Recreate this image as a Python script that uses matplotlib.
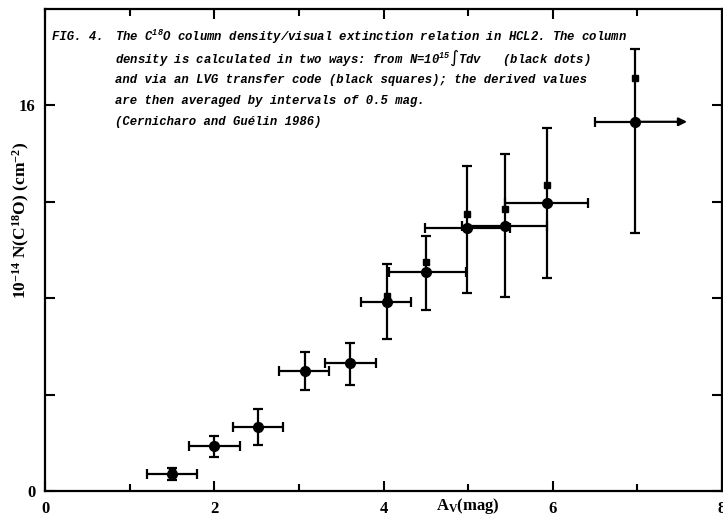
import numpy as np
import matplotlib.pyplot as plt

plt.rcParams['mathtext.default'] = 'regular'

# Av bins and column densities (10^14 cm^-2)
av = [1.5, 2.0, 2.52, 3.07, 3.61, 4.04, 4.5, 4.99, 5.43, 5.93, 6.97]
n_dots = [0.7, 1.88, 2.67, 4.98, 5.3, 7.86, 9.09, 10.9, 10.99, 11.94, 15.32]
n_squares = [0.85, 1.9, 2.7, 5.0, 5.3, 8.1, 9.5, 11.5, 11.7, 12.7, 17.15]
yerr_lo = [0.25, 0.46, 0.76, 0.79, 0.9, 1.56, 1.59, 2.7, 2.93, 3.11, 4.6]
yerr_hi = [0.25, 0.41, 0.73, 0.77, 0.83, 1.54, 1.51, 2.6, 3.0, 3.12, 3.0]
xerr_lo = [0.3, 0.3, 0.3, 0.31, 0.3, 0.3, 0.44, 0.5, 0.5, 0.5, 0.47]
xerr_hi = [0.3, 0.3, 0.29, 0.29, 0.3, 0.29, 0.48, 0.5, 0.5, 0.49, 0.0]
arrow_to = 7.62   # lower limit on the last bin

xticks = [0, 2, 4, 6, 8]
yticks = [0, 4, 8, 12, 16]
ytick_labels = ['0', '', '', '', '16']

caption = [
    "The C$^{18}$O column density/visual extinction relation in HCL2. The column",
    "density is calculated in two ways: from N=10$^{15}$\u222bTdv   (black dots)",
    "and via an LVG transfer code (black squares); the derived values",
    "are then averaged by intervals of 0.5 mag.",
    "(Cernicharo and Gu\u00e9lin 1986)",
]

fig = plt.figure(figsize=(7.23, 5.17), dpi=100)
ax = fig.add_axes([45/723, 26/517, 677/723, 482/517])

ax.errorbar(av, n_dots, yerr=[yerr_lo, yerr_hi], xerr=[xerr_lo, xerr_hi],
            fmt='o', color='black', ms=7, elinewidth=1.6, capsize=3.5,
            capthick=1.6, zorder=3)
ax.plot(av, n_squares, 's', color='black', ms=4.5, zorder=4)
ax.annotate('', xy=(arrow_to, n_dots[-1]), xytext=(av[-1], n_dots[-1]),
            arrowprops=dict(arrowstyle='-|>', color='black', lw=1.6,
                            mutation_scale=12))

ax.set_xlim(0, 8)
ax.set_ylim(0, 20)
ax.set_xticks(xticks)
ax.set_xticks([1, 3, 5, 7], minor=True)
ax.set_yticks(yticks)
ax.set_yticklabels(ytick_labels)
ax.tick_params(which='both', direction='in', top=True, right=True, width=1.5)
ax.tick_params(which='major', length=7, pad=7)
ax.tick_params(which='minor', length=5)
for lab in ax.get_xticklabels() + ax.get_yticklabels():
    lab.set_fontfamily('Liberation Serif')
    lab.set_fontweight('bold')
    lab.set_fontsize(12)
for sp in ax.spines.values():
    sp.set_linewidth(1.6)

cap_font = dict(family='Liberation Mono', style='italic', weight='bold',
                size=8.8, transform=fig.transFigure)
fig.text(52/723, 1 - 37/517, "FIG. 4.", va='center', **cap_font)
for i, line in enumerate(caption):
    fig.text(115/723, 1 - (37 + 21.3*i)/517, line, va='center', **cap_font)

fig.text(21/723, 1 - 220/517, "10$^{-14}$ N(C$^{18}$O) (cm$^{-2}$)",
         rotation=90, ha='center', va='center', family='Liberation Serif',
         weight='bold', size=12.5)
fig.text(468/723, 1 - 506/517, "A$_V$(mag)", ha='center', va='center',
         family='Liberation Serif', weight='bold', size=12)

fig.savefig('out.png', dpi=100)
